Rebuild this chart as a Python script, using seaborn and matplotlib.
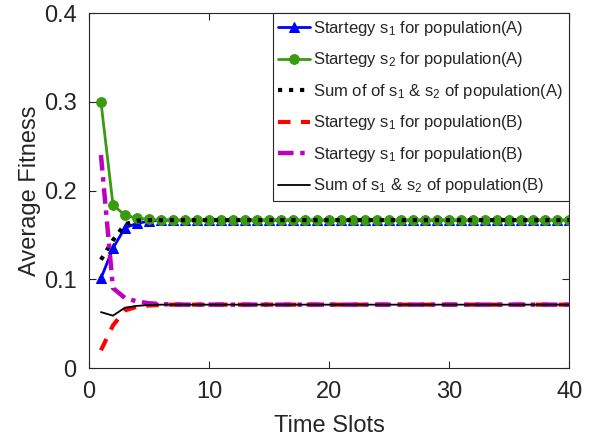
import numpy as np
import pandas as pd
import seaborn as sns
import matplotlib.pyplot as plt
from matplotlib.ticker import FormatStrFormatter

# Time slots
time_slots = list(range(1, 41))

# Population A
s1_pop_a = [0.101, 0.135, 0.158, 0.163, 0.1655, 0.1665, 0.1667, 0.1667, 0.1667, 0.1667,
            0.1667, 0.1667, 0.1667, 0.1667, 0.1667, 0.1667, 0.1667, 0.1667, 0.1667, 0.1667,
            0.1667, 0.1667, 0.1667, 0.1667, 0.1667, 0.1667, 0.1667, 0.1667, 0.1667, 0.1667,
            0.1667, 0.1667, 0.1667, 0.1667, 0.1667, 0.1667, 0.1667, 0.1667, 0.1667, 0.1667]
s2_pop_a = [0.300, 0.184, 0.172, 0.169, 0.1675, 0.1668, 0.1667, 0.1667, 0.1667, 0.1667,
            0.1667, 0.1667, 0.1667, 0.1667, 0.1667, 0.1667, 0.1667, 0.1667, 0.1667, 0.1667,
            0.1667, 0.1667, 0.1667, 0.1667, 0.1667, 0.1667, 0.1667, 0.1667, 0.1667, 0.1667,
            0.1667, 0.1667, 0.1667, 0.1667, 0.1667, 0.1667, 0.1667, 0.1667, 0.1667, 0.1667]
sum_pop_a = [0.122, 0.144, 0.162, 0.166, 0.1667, 0.1667, 0.1667, 0.1667, 0.1667, 0.1667,
             0.1667, 0.1667, 0.1667, 0.1667, 0.1667, 0.1667, 0.1667, 0.1667, 0.1667, 0.1667,
             0.1667, 0.1667, 0.1667, 0.1667, 0.1667, 0.1667, 0.1667, 0.1667, 0.1667, 0.1667,
             0.1667, 0.1667, 0.1667, 0.1667, 0.1667, 0.1667, 0.1667, 0.1667, 0.1667, 0.1667]

# Population B
s1_pop_b = [0.020, 0.048, 0.065, 0.069, 0.0705, 0.071, 0.0714, 0.0714, 0.0714, 0.0714,
            0.0714, 0.0714, 0.0714, 0.0714, 0.0714, 0.0714, 0.0714, 0.0714, 0.0714, 0.0714,
            0.0714, 0.0714, 0.0714, 0.0714, 0.0714, 0.0714, 0.0714, 0.0714, 0.0714, 0.0714,
            0.0714, 0.0714, 0.0714, 0.0714, 0.0714, 0.0714, 0.0714, 0.0714, 0.0714, 0.0714]
s2_pop_b = [0.240, 0.090, 0.079, 0.075, 0.073, 0.072, 0.0716, 0.0714, 0.0714, 0.0714,
            0.0714, 0.0714, 0.0714, 0.0714, 0.0714, 0.0714, 0.0714, 0.0714, 0.0714, 0.0714,
            0.0714, 0.0714, 0.0714, 0.0714, 0.0714, 0.0714, 0.0714, 0.0714, 0.0714, 0.0714,
            0.0714, 0.0714, 0.0714, 0.0714, 0.0714, 0.0714, 0.0714, 0.0714, 0.0714, 0.0714]
sum_pop_b = [0.063, 0.059, 0.068, 0.070, 0.071, 0.0714, 0.0714, 0.0714, 0.0714, 0.0714,
             0.0714, 0.0714, 0.0714, 0.0714, 0.0714, 0.0714, 0.0714, 0.0714, 0.0714, 0.0714,
             0.0714, 0.0714, 0.0714, 0.0714, 0.0714, 0.0714, 0.0714, 0.0714, 0.0714, 0.0714,
             0.0714, 0.0714, 0.0714, 0.0714, 0.0714, 0.0714, 0.0714, 0.0714, 0.0714, 0.0714]

labels = ["Startegy s$_1$ for population(A)",
          "Startegy s$_2$ for population(A)",
          "Sum of of s$_1$ & s$_2$ of population(A)",
          "Startegy s$_1$ for population(B)",
          "Startegy s$_1$ for population(B)",
          "Sum of s$_1$ & s$_2$ of population(B)"]

sns.set_theme(style="ticks")
plt.rcParams['font.family'] = ['Liberation Sans', 'DejaVu Sans']
plt.rcParams['mathtext.default'] = 'regular'

fig = plt.figure(figsize=(6.01, 4.42), dpi=100)
ax = fig.add_axes([0.148, 0.1674, 0.799, 0.803])

sns.lineplot(x=time_slots, y=s1_pop_a, ax=ax, color='#0000ff', lw=2, marker='^',
             markersize=7, markeredgecolor='#0000ff', label=labels[0])
sns.lineplot(x=time_slots, y=s2_pop_a, ax=ax, color='#3a9a10', lw=2, marker='o',
             markersize=7, markeredgecolor='#3a9a10', label=labels[1])
sns.lineplot(x=time_slots, y=sum_pop_a, ax=ax, color='black', lw=3, ls=':', label=labels[2])
sns.lineplot(x=time_slots, y=s1_pop_b, ax=ax, color='#ff0000', lw=3, ls=(0, (3, 2.5)), label=labels[3])
sns.lineplot(x=time_slots, y=s2_pop_b, ax=ax, color='#bf00bf', lw=3.2, ls=(0, (3.5, 1.5, 1, 1.5)), label=labels[4])
sns.lineplot(x=time_slots, y=sum_pop_b, ax=ax, color='black', lw=1.3, label=labels[5])

ax.set_xlim(0, 40)
ax.set_ylim(0, 0.4)
ax.set_xticks([0, 10, 20, 30, 40])
ax.set_yticks([0, 0.1, 0.2, 0.3, 0.4])
ax.yaxis.set_major_formatter(FormatStrFormatter('%g'))
ax.tick_params(direction='in', top=True, right=True, length=5, width=0.8,
               labelsize=17, colors='#262626')
ax.tick_params(axis='x', pad=9)
ax.tick_params(axis='y', pad=9)
for sp in ax.spines.values():
    sp.set_color('#262626')
    sp.set_linewidth(0.8)
ax.set_xlabel("Time Slots", fontsize=17, color='#262626', labelpad=9)
ax.set_ylabel("Average Fitness", fontsize=17, color='#262626', labelpad=2)

leg = ax.legend(loc='upper right', fontsize=12, frameon=True, fancybox=False,
                framealpha=1, edgecolor='#262626', borderaxespad=0, borderpad=0.35,
                handlelength=1.9, handletextpad=0.2, labelspacing=0.75)
leg.get_frame().set_linewidth(0.8)

fig.savefig("out.png", dpi=100)
